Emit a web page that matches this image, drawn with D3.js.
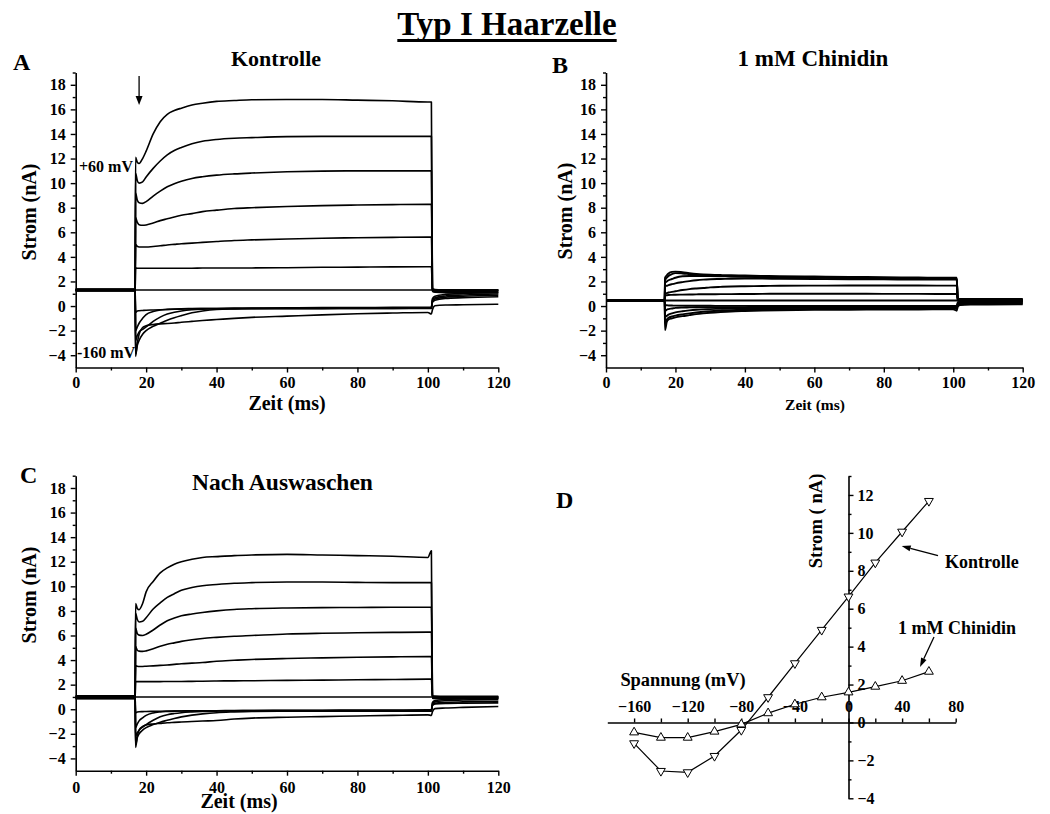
<!DOCTYPE html>
<html><head><meta charset="utf-8">
<script src="https://cdn.jsdelivr.net/npm/d3@7"></script>
<style>
body{margin:0;background:#fff}
text{font-family:"Liberation Serif","Times New Roman",serif;font-weight:bold;fill:#000}
</style>
</head><body>
<svg id="c" width="1050" height="814"></svg>
<script>
// ---------- DATA ----------
const stepsMV = [60,40,20,0,-20,-40,-60,-80,-100,-120,-140,-160];
const tPulse = [17,17.5,18,19,20,22,24,26,28,30,33,36,40,45,50,60,70,80,90,100,101];
const tTail = [101.3,102,105,110,120];
const xTicks = [0,20,40,60,80,100,120];
const xMinor = [10,30,50,70,90,110];
const yTicks = [-4,-2,0,2,4,6,8,10,12,14,16,18];
const yMinor = [-3,-1,1,3,5,7,9,11,13,15,17,19];

// Panel A (Kontrolle)
const holdA = [1.38,1.36,1.34,1.32,1.3,1.3,1.3,1.28,1.27,1.26,1.24,1.22];
const pulseA = [
 [12.1,11.7,11.6,12.0,12.6,14.0,15.0,15.6,15.9,16.1,16.35,16.5,16.65,16.72,16.78,16.8,16.8,16.75,16.7,16.6,16.6],
 [10.8,10.2,10.0,10.1,10.5,11.2,11.8,12.3,12.65,12.9,13.2,13.4,13.55,13.65,13.7,13.78,13.8,13.8,13.8,13.8,13.8],
 [9.2,8.6,8.4,8.35,8.5,8.95,9.35,9.7,9.95,10.15,10.38,10.52,10.65,10.75,10.82,10.92,10.98,11.0,11.0,11.0,11.0],
 [7.2,6.8,6.62,6.57,6.6,6.75,6.95,7.1,7.25,7.38,7.52,7.68,7.8,7.93,8.0,8.1,8.17,8.22,8.25,8.27,8.27],
 [5.0,4.85,4.8,4.8,4.8,4.85,4.9,4.97,5.02,5.07,5.12,5.18,5.25,5.33,5.38,5.46,5.52,5.56,5.59,5.61,5.61],
 [3.1,3.08,3.08,3.08,3.08,3.08,3.08,3.08,3.08,3.08,3.08,3.09,3.09,3.1,3.1,3.12,3.15,3.17,3.19,3.2,3.2],
 [1.3,1.3,1.3,1.3,1.3,1.3,1.3,1.3,1.3,1.3,1.3,1.3,1.3,1.3,1.3,1.3,1.3,1.3,1.3,1.3,1.3],
 [-0.5,-0.4,-0.38,-0.36,-0.34,-0.32,-0.3,-0.28,-0.26,-0.25,-0.23,-0.21,-0.2,-0.18,-0.17,-0.15,-0.13,-0.12,-0.11,-0.1,-0.1],
 [-2.0,-1.7,-1.4,-1.0,-0.7,-0.45,-0.32,-0.27,-0.24,-0.22,-0.21,-0.2,-0.2,-0.19,-0.19,-0.18,-0.17,-0.16,-0.16,-0.15,-0.15],
 [-2.8,-2.4,-2.1,-1.9,-1.7,-1.25,-0.9,-0.65,-0.5,-0.4,-0.3,-0.25,-0.22,-0.21,-0.2,-0.2,-0.2,-0.19,-0.19,-0.18,-0.18],
 [-3.9,-3.2,-2.8,-2.3,-2.0,-1.65,-1.4,-1.15,-0.95,-0.78,-0.55,-0.4,-0.28,-0.24,-0.22,-0.21,-0.21,-0.2,-0.2,-0.2,-0.2],
 [-4.1,-3.0,-2.3,-1.75,-1.6,-1.5,-1.45,-1.42,-1.38,-1.32,-1.25,-1.18,-1.1,-1.0,-0.92,-0.82,-0.72,-0.63,-0.57,-0.52,-0.65]
];
const tailA = [
 [1.4,1.35,1.32,1.3,1.3],[1.35,1.3,1.28,1.27,1.27],[1.3,1.25,1.22,1.22,1.22],[1.25,1.2,1.15,1.15,1.15],
 [1.2,1.12,1.08,1.08,1.1],[1.3,1.3,1.3,1.3,1.3],[1.3,1.3,1.3,1.3,1.3],[0.6,0.8,0.95,1.02,1.08],
 [0.5,0.68,0.82,0.9,0.98],[0.4,0.58,0.72,0.8,0.88],[0.3,0.48,0.62,0.68,0.75],[-0.3,0.02,0.08,0.1,0.15]
];

// Panel B (1 mM Chinidin)
const holdB = [0.5,0.49,0.48,0.47,0.46,0.45,0.45,0.44,0.43,0.42,0.41,0.4];
const pulseB = [
 [2.3,2.5,2.65,2.78,2.8,2.75,2.68,2.62,2.58,2.55,2.52,2.5,2.48,2.45,2.43,2.4,2.37,2.35,2.32,2.3,2.3],
 [2.1,2.3,2.45,2.6,2.68,2.65,2.6,2.55,2.52,2.48,2.45,2.42,2.4,2.38,2.36,2.33,2.3,2.28,2.26,2.25,2.25],
 [1.9,2.0,2.1,2.2,2.3,2.42,2.45,2.45,2.44,2.43,2.42,2.4,2.38,2.36,2.35,2.3,2.27,2.24,2.22,2.2,2.2],
 [1.6,1.65,1.7,1.78,1.85,1.95,2.03,2.1,2.15,2.18,2.2,2.22,2.23,2.23,2.22,2.2,2.18,2.17,2.15,2.15,2.15],
 [1.0,1.05,1.1,1.15,1.2,1.3,1.38,1.43,1.47,1.52,1.56,1.59,1.61,1.63,1.65,1.66,1.67,1.67,1.67,1.66,1.66],
 [0.85,0.88,0.9,0.91,0.92,0.93,0.94,0.95,0.96,0.96,0.97,0.97,0.98,0.99,1.0,1.0,1.0,0.99,0.99,0.98,0.98],
 [0.45,0.45,0.45,0.45,0.45,0.45,0.45,0.45,0.45,0.45,0.45,0.45,0.45,0.45,0.45,0.45,0.45,0.45,0.45,0.45,0.45],
 [0.1,0.06,0.05,0.04,0.03,0.03,0.02,0.02,0.02,0.02,0.01,0.01,0.01,0.0,0.0,0.0,0.0,0.0,0.0,0.0,0.0],
 [-0.4,-0.3,-0.25,-0.2,-0.15,-0.12,-0.11,-0.1,-0.1,-0.1,-0.1,-0.1,-0.1,-0.1,-0.1,-0.1,-0.1,-0.1,-0.1,-0.1,-0.1],
 [-0.9,-0.8,-0.7,-0.6,-0.52,-0.42,-0.35,-0.3,-0.27,-0.25,-0.22,-0.2,-0.18,-0.17,-0.16,-0.15,-0.14,-0.13,-0.13,-0.12,-0.12],
 [-1.4,-1.1,-0.95,-0.85,-0.78,-0.68,-0.6,-0.53,-0.47,-0.42,-0.37,-0.33,-0.3,-0.28,-0.26,-0.24,-0.23,-0.22,-0.22,-0.22,-0.22],
 [-1.95,-1.3,-1.1,-1.0,-0.92,-0.82,-0.74,-0.66,-0.6,-0.55,-0.49,-0.44,-0.4,-0.36,-0.34,-0.31,-0.3,-0.29,-0.28,-0.27,-0.38]
];
const tailB = [
 [0.6,0.58,0.57,0.57,0.57],[0.56,0.54,0.53,0.53,0.53],[0.52,0.5,0.49,0.49,0.49],[0.48,0.46,0.45,0.45,0.45],
 [0.44,0.42,0.41,0.41,0.41],[0.46,0.45,0.45,0.45,0.45],[0.45,0.45,0.45,0.45,0.45],[0.3,0.34,0.36,0.37,0.38],
 [0.2,0.26,0.3,0.31,0.32],[0.12,0.2,0.24,0.25,0.26],[0.05,0.14,0.18,0.19,0.2],[-0.05,0.08,0.12,0.13,0.14]
];

// Panel C (Nach Auswaschen)
const holdC = [1.1,1.08,1.05,1.02,1.0,0.98,0.97,0.95,0.93,0.9,0.88,0.85];
const pulseC = [
 [8.6,8.2,8.1,8.6,9.55,10.4,11.1,11.5,11.8,12.0,12.2,12.35,12.42,12.5,12.55,12.6,12.55,12.5,12.45,12.35,12.9],
 [7.8,7.3,7.1,7.15,7.45,8.15,8.65,9.1,9.4,9.68,9.9,10.05,10.15,10.25,10.3,10.35,10.35,10.32,10.3,10.3,10.3],
 [6.6,6.15,6.03,6.0,6.1,6.45,6.85,7.2,7.42,7.6,7.75,7.87,8.0,8.12,8.18,8.24,8.27,8.28,8.3,8.3,8.3],
 [5.1,4.8,4.73,4.71,4.75,4.92,5.12,5.28,5.4,5.52,5.65,5.76,5.85,5.94,6.0,6.12,6.18,6.22,6.25,6.27,6.27],
 [3.55,3.5,3.48,3.48,3.5,3.53,3.57,3.6,3.65,3.7,3.75,3.8,3.9,3.98,4.05,4.13,4.18,4.23,4.26,4.28,4.28],
 [2.25,2.25,2.25,2.25,2.25,2.25,2.25,2.26,2.26,2.26,2.27,2.28,2.3,2.31,2.32,2.35,2.37,2.4,2.42,2.45,2.45],
 [1.0,1.0,1.0,1.0,1.0,1.0,1.0,1.0,1.0,1.0,1.0,1.0,1.0,1.0,1.0,1.0,1.0,1.0,1.0,1.0,1.0],
 [-0.3,-0.22,-0.2,-0.19,-0.18,-0.17,-0.16,-0.15,-0.14,-0.14,-0.13,-0.13,-0.12,-0.11,-0.1,-0.09,-0.08,-0.07,-0.06,-0.05,-0.05],
 [-1.5,-1.2,-0.95,-0.7,-0.5,-0.3,-0.22,-0.18,-0.15,-0.14,-0.13,-0.12,-0.12,-0.12,-0.11,-0.11,-0.1,-0.1,-0.1,-0.1,-0.1],
 [-2.2,-1.9,-1.7,-1.45,-1.25,-0.9,-0.62,-0.45,-0.35,-0.28,-0.22,-0.18,-0.15,-0.14,-0.13,-0.13,-0.12,-0.12,-0.12,-0.12,-0.12],
 [-2.9,-2.3,-2.0,-1.7,-1.5,-1.25,-1.05,-0.9,-0.75,-0.62,-0.48,-0.38,-0.28,-0.22,-0.18,-0.16,-0.15,-0.15,-0.15,-0.15,-0.15],
 [-3.1,-2.2,-1.7,-1.4,-1.28,-1.2,-1.15,-1.1,-1.07,-1.04,-1.0,-0.96,-0.92,-0.8,-0.72,-0.65,-0.6,-0.55,-0.5,-0.46,-0.5]
];
const tailC = [
 [1.1,1.08,1.05,1.05,1.05],[1.05,1.02,1.0,1.0,1.0],[1.0,0.98,0.95,0.95,0.95],[0.95,0.92,0.9,0.9,0.9],
 [0.9,0.88,0.85,0.85,0.85],[1.0,1.0,1.0,1.0,1.0],[1.0,1.0,1.0,1.0,1.0],[0.55,0.7,0.8,0.85,0.9],
 [0.45,0.6,0.7,0.75,0.8],[0.35,0.48,0.55,0.6,0.65],[0.3,0.42,0.48,0.5,0.52],[-0.2,0.05,0.1,0.15,0.22]
];

// Panel D (I-V curves)
const voltageD = [-160,-140,-120,-100,-80,-60,-40,-20,0,20,40,60];
const kontrolleD = [-1.1,-2.56,-2.63,-1.77,-0.4,1.33,3.12,4.88,6.64,8.43,10.06,11.68];
const chinidinD = [-0.52,-0.8,-0.8,-0.48,-0.1,0.49,0.96,1.33,1.59,1.89,2.2,2.68];
const dXTicks = [-160,-120,-80,-40,0,40,80];
const dXMinor = [-140,-100,-60,-20,20,60];
const dYTicks = [-4,-2,0,2,4,6,8,10,12];
const dYMinor = [-3,-1,1,3,5,7,9,11,13];

// ---------- DRAWING ----------
const svg = d3.select("#c");
svg.append("rect").attr("width",1050).attr("height",814).attr("fill","#fff");

function txt(x, y, s, size, anchor, rot) {
  const t = svg.append("text").attr("x", x).attr("y", y).attr("font-size", size)
    .attr("text-anchor", anchor || "start").text(s);
  if (rot) t.attr("transform", `rotate(${rot},${x},${y})`);
  return t;
}
function styleAxis(g, fs) {
  g.selectAll("path.domain").attr("stroke", "#000").attr("stroke-width", 1.6);
  g.selectAll(".tick line").attr("stroke", "#000").attr("stroke-width", 1.4);
  g.selectAll(".tick text").attr("font-size", fs).attr("font-family", '"Liberation Serif", serif')
    .attr("font-weight", "bold").attr("fill", "#000");
  g.attr("font-family", null).attr("font-size", null);
}

function tracePanel(o) {
  const x = d3.scaleLinear().domain([0,120]).range(o.xr);
  const y = d3.scaleLinear().domain([-5,19]).range(o.yr);
  const line = d3.line().x(d => x(d[0])).y(d => y(d[1])).curve(d3.curveMonotoneX);
  const g = svg.append("g");
  stepsMV.forEach((mv, i) => {
    const pts = [[0, o.hold[i]], [16.9, o.hold[i]]];
    tPulse.forEach((t, k) => pts.push([t, o.pulse[i][k]]));
    tTail.forEach((t, k) => pts.push([t, o.tail[i][k]]));
    g.append("path").datum(pts).attr("d", line).attr("fill", "none")
      .attr("stroke", "#000").attr("stroke-width", o.sw).attr("stroke-linejoin", "round");
  });
  const ya = g.append("g").attr("transform", `translate(${o.xr[0]},0)`)
    .call(d3.axisLeft(y).tickValues(yTicks).tickSize(5).tickPadding(5).tickSizeOuter(0));
  styleAxis(ya, 16);
  const yam = g.append("g").attr("transform", `translate(${o.xr[0]},0)`)
    .call(d3.axisLeft(y).tickValues(yMinor).tickSize(3).tickFormat("").tickSizeOuter(0));
  styleAxis(yam, 16); yam.select("path.domain").remove();
  const xa = g.append("g").attr("transform", `translate(0,${o.yr[0]})`)
    .call(d3.axisBottom(x).tickValues(xTicks).tickSize(5).tickPadding(o.xpad).tickSizeOuter(0));
  styleAxis(xa, 16);
  const xam = g.append("g").attr("transform", `translate(0,${o.yr[0]})`)
    .call(d3.axisBottom(x).tickValues(xMinor).tickSize(3).tickFormat("").tickSizeOuter(0));
  styleAxis(xam, 16); xam.select("path.domain").remove();
  return {x, y};
}

const A = tracePanel({xr:[75.7,498.3], yr:[367.5,72.5], hold:holdA, pulse:pulseA, tail:tailA, sw:1.6, xpad:4});
const B = tracePanel({xr:[606,1022.7], yr:[367.5,72.5], hold:holdB, pulse:pulseB, tail:tailB, sw:1.9, xpad:4});
const C = tracePanel({xr:[75.7,498.3], yr:[770.7,475.7], hold:holdC, pulse:pulseC, tail:tailC, sw:1.6, xpad:6});

// Panel D
const xD = d3.scaleLinear().domain([-180,80]).range([607.3,955.7]);
const yD = d3.scaleLinear().domain([-4,13]).range([798.3,476]);
const gD = svg.append("g");
const xa = gD.append("g").attr("transform", `translate(0,${yD(0)})`)
  .call(d3.axisTop(xD).tickValues(dXTicks).tickSize(4).tickPadding(6).tickSizeOuter(0));
styleAxis(xa, 16);
const xam = gD.append("g").attr("transform", `translate(0,${yD(0)})`)
  .call(d3.axisTop(xD).tickValues(dXMinor).tickSize(4).tickFormat("").tickSizeOuter(0));
styleAxis(xam, 16); xam.select("path.domain").remove();
const ya = gD.append("g").attr("transform", `translate(${xD(0)},0)`)
  .call(d3.axisRight(yD).tickValues(dYTicks).tickSize(5).tickPadding(4).tickSizeOuter(0));
styleAxis(ya, 16);
const yam = gD.append("g").attr("transform", `translate(${xD(0)},0)`)
  .call(d3.axisRight(yD).tickValues(dYMinor).tickSize(3).tickFormat("").tickSizeOuter(0));
styleAxis(yam, 16); yam.select("path.domain").remove();

const lineD = d3.line().x((d, i) => xD(voltageD[i])).y(d => yD(d));
[[kontrolleD, 180], [chinidinD, 0]].forEach(([vals, rot]) => {
  gD.append("path").datum(vals).attr("d", lineD).attr("fill", "none")
    .attr("stroke", "#000").attr("stroke-width", 1.2);
  const sym = d3.symbol().type(d3.symbolTriangle).size(34);
  gD.selectAll(null).data(vals).enter().append("path").attr("d", sym)
    .attr("transform", (d, i) => `translate(${xD(voltageD[i])},${yD(d)}) rotate(${rot})`)
    .attr("fill", "#fff").attr("stroke", "#000").attr("stroke-width", 1);
});

function arrow(x1, y1, x2, y2, head, w) {
  const a = Math.atan2(y2 - y1, x2 - x1);
  const bx = x2 - head * Math.cos(a), by = y2 - head * Math.sin(a);
  svg.append("line").attr("x1", x1).attr("y1", y1).attr("x2", bx).attr("y2", by)
    .attr("stroke", "#000").attr("stroke-width", 1.3);
  const px = -Math.sin(a) * w, py = Math.cos(a) * w;
  svg.append("path").attr("d", `M${x2},${y2}L${bx+px},${by+py}L${bx-px},${by-py}Z`).attr("fill", "#000");
}

// ---------- TEXT ----------
const title = txt(507, 35, "Typ I Haarzelle", 33, "middle");
const tb = title.node().getBBox();
svg.append("rect").attr("x", tb.x).attr("y", 39).attr("width", tb.width).attr("height", 3).attr("fill", "#000");

txt(13, 70, "A", 24);
txt(276, 66, "Kontrolle", 22, "middle");
txt(36, 212, "Strom (nA)", 20, "middle", -90);
txt(287, 410, "Zeit (ms)", 20, "middle");
txt(79, 172, "+60 mV", 16);
txt(77, 358, "-160 mV", 16);
arrow(A.x(18), 76, A.x(18), 105, 9, 3.5);

txt(552, 73, "B", 24);
txt(813, 66, "1 mM Chinidin", 23, "middle");
txt(572, 211, "Strom (nA)", 20, "middle", -90);
txt(815, 410, "Zeit (ms)", 15.5, "middle");

txt(20, 483, "C", 24);
txt(282.5, 490, "Nach Auswaschen", 23.5, "middle");
txt(36, 595, "Strom (nA)", 20, "middle", -90);
txt(239, 808, "Zeit (ms)", 20, "middle");

txt(556, 508, "D", 24);
txt(822, 521, "Strom ( nA)", 18.6, "middle", -90);
txt(683, 686, "Spannung (mV)", 18.4, "middle");
txt(945, 568, "Kontrolle", 18);
txt(898, 633.5, "1 mM Chinidin", 18);
arrow(938, 555.7, 901.7, 546, 9, 3);
arrow(934, 637, 920, 667, 9, 3);
</script>
</body></html>
